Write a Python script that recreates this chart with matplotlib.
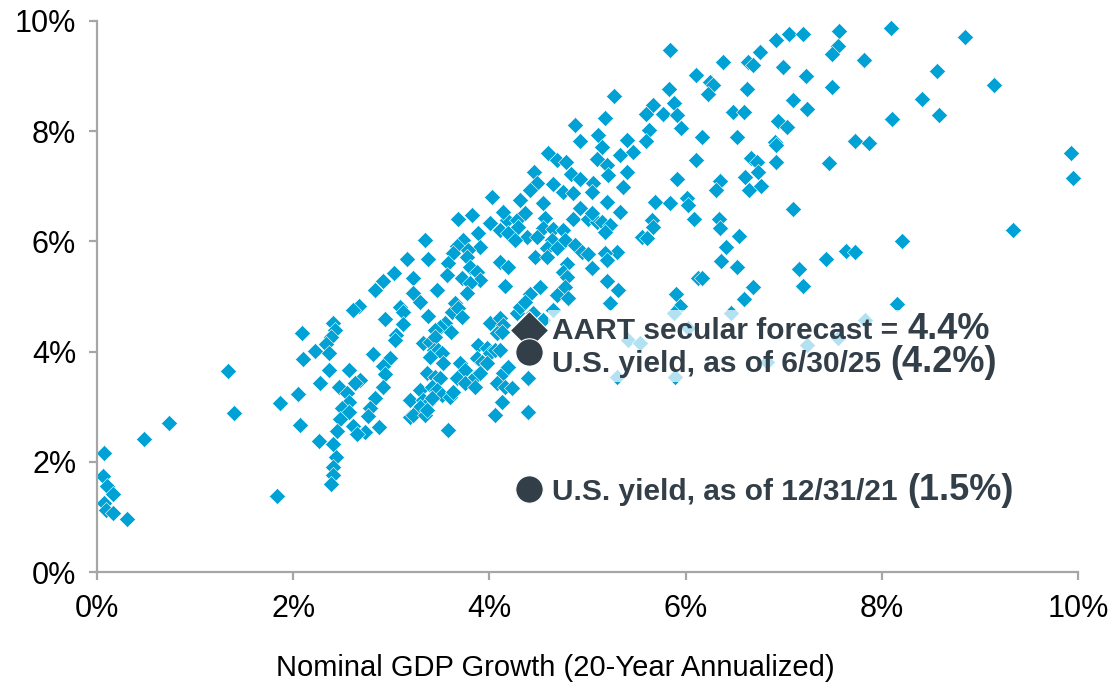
import matplotlib
matplotlib.use("Agg")
import matplotlib.pyplot as plt
from matplotlib.patches import Rectangle

plt.rcParams["font.family"] = ["Liberation Sans", "DejaVu Sans"]

# Nominal GDP growth (20-year annualized, %) for each country/period point
gdp_growth = [
    1.33, 1.40, 0.73, 0.48, 0.07, 2.44, 2.41, 2.41, 0.06, 2.39,
    0.10, 0.16, 1.83, 0.07, 0.09, 0.16, 0.31,
    3.03, 2.92, 2.83, 2.67, 2.61, 2.94, 2.41, 2.43, 2.09, 2.39,
    3.05, 3.04, 2.33, 2.22, 2.36, 2.81, 2.10, 2.99, 2.92, 2.36,
    2.57, 2.94, 2.68, 2.63, 2.27, 2.47, 2.92, 2.05, 2.55, 2.83,
    1.87, 2.57, 2.50, 2.57, 2.78, 2.76, 2.48, 2.07, 2.87, 2.61,
    2.73, 2.45, 2.65, 2.26, 2.41,
    4.03, 3.82, 3.68, 4.01, 3.88, 3.34, 3.73, 3.67, 3.90, 3.78,
    3.63, 3.77, 3.37, 3.16, 3.58, 3.80, 3.87, 3.57, 3.22, 3.72,
    3.90, 3.47, 3.80, 3.22, 3.77,
    4.18, 4.28, 4.57, 4.85, 5.00, 5.10, 4.29, 4.11, 4.55, 4.65,
    4.75, 4.19, 4.38, 4.49, 4.26, 4.64, 4.77, 4.87, 4.59, 4.69,
    4.94, 4.46, 4.59, 5.00, 4.11, 4.79, 4.19, 5.05, 4.75, 4.79,
    4.52, 4.77, 4.16, 4.41, 4.69, 4.80,
    3.09, 3.12, 3.29, 3.12, 3.37, 3.62, 3.65, 3.68, 3.72, 3.55,
    3.50, 3.45, 3.61, 3.32, 3.39, 3.45, 3.43, 3.48, 3.52, 3.39,
    3.53, 3.70, 3.75, 3.88, 3.98, 4.01, 3.87, 3.92, 3.98, 4.01,
    4.11, 4.14, 4.08, 4.13, 4.06, 4.11, 4.28, 4.31, 4.36, 4.44,
    4.55, 3.36, 3.45, 3.50, 3.67, 3.75, 3.85, 3.90, 3.85, 4.14,
    4.19, 4.08, 4.16, 4.23, 4.39, 3.29, 3.41, 3.47, 3.52, 3.60,
    3.63, 3.19, 3.32, 3.37, 3.41, 3.29, 3.19, 3.22, 3.34, 3.36,
    4.13, 4.06, 4.39, 3.58, 4.65,
    5.84, 6.11, 5.83, 5.27, 5.67, 5.88, 5.60, 5.77, 5.91, 5.18,
    4.87, 5.95, 5.63, 5.11, 4.92, 5.40, 5.60, 5.15, 5.46, 4.60,
    5.33, 4.69, 4.78, 5.10, 6.11, 5.20, 5.40, 4.45, 4.83, 4.92,
    5.21, 5.91, 4.65, 4.49, 5.06, 5.36, 4.41, 4.75, 4.85, 5.05,
    4.31, 4.55, 5.20, 5.69, 5.84, 6.01, 6.02, 4.92, 5.05, 5.33,
    4.14, 4.36,
    5.66, 5.67, 5.15, 5.23, 5.18, 5.56, 5.61, 6.09, 5.30, 5.18,
    5.20, 6.13, 5.20, 5.31, 5.90, 5.23, 5.94, 5.88, 5.41, 5.54,
    5.30, 5.89, 6.02,
    6.92, 7.05, 7.20, 7.56, 8.09, 8.85, 7.55, 7.49, 6.76, 6.38,
    6.64, 6.69, 6.99, 7.82, 7.23, 8.56, 6.25, 6.28, 6.23, 6.63,
    7.49, 9.14, 8.41, 7.09, 6.48, 6.60, 7.24, 8.10, 8.58, 6.94,
    7.03, 6.17, 6.52, 7.73, 7.87, 6.91, 6.92, 9.93, 6.67, 6.73,
    6.92, 7.46, 6.74, 9.95, 6.61, 6.35, 6.31, 6.65, 6.77, 7.09,
    9.34, 6.34, 6.35, 6.54, 8.21, 6.41, 7.63, 7.73, 7.43, 6.36,
    6.52, 7.16, 7.20, 6.69, 6.60, 8.15, 6.46, 6.17, 7.24, 7.55,
    7.83, 6.83,
]

# 10-year government bond yield (%) for each point
bond_yield = [
    3.65, 2.89, 2.70, 2.41, 2.16, 2.09, 1.91, 1.76, 1.74, 1.60,
    1.56, 1.42, 1.38, 1.25, 1.13, 1.07, 0.96,
    5.43, 5.28, 5.12, 4.83, 4.75, 4.59, 4.52, 4.39, 4.34, 4.26,
    4.30, 4.21, 4.14, 4.01, 3.97, 3.95, 3.87, 3.88, 3.74, 3.67,
    3.67, 3.59, 3.48, 3.43, 3.43, 3.36, 3.36, 3.23, 3.25, 3.16,
    3.07, 3.09, 2.98, 2.90, 2.98, 2.83, 2.78, 2.67, 2.63, 2.65,
    2.54, 2.56, 2.50, 2.38, 2.32,
    6.81, 6.48, 6.41, 6.33, 6.15, 6.03, 6.03, 5.92, 5.90, 5.84,
    5.79, 5.72, 5.68, 5.68, 5.61, 5.53, 5.44, 5.39, 5.34, 5.34,
    5.30, 5.12, 5.25, 5.06, 5.06,
    6.39, 6.39, 6.42, 6.41, 6.41, 6.35, 6.26, 6.21, 6.24, 6.23,
    6.21, 6.15, 6.08, 6.08, 6.03, 6.03, 6.03, 5.93, 5.88, 5.88,
    5.81, 5.72, 5.72, 5.77, 5.63, 5.59, 5.54, 5.52, 5.44, 5.35,
    5.17, 5.17, 5.19, 5.05, 5.03, 4.97,
    4.81, 4.72, 4.90, 4.50, 4.65, 4.72, 4.88, 4.79, 4.63, 4.52,
    4.45, 4.39, 4.35, 4.16, 4.17, 4.27, 4.03, 4.03, 3.97, 3.90,
    3.79, 3.79, 3.67, 4.12, 4.07, 3.97, 3.88, 3.81, 3.79, 4.52,
    4.61, 4.48, 4.34, 4.36, 4.03, 4.03, 4.70, 4.81, 4.90, 4.70,
    4.57, 3.61, 3.54, 3.52, 3.52, 3.43, 3.54, 3.61, 3.36, 3.61,
    3.72, 3.43, 3.36, 3.34, 3.52, 3.30, 3.36, 3.30, 3.21, 3.18,
    3.27, 3.12, 3.12, 3.07, 3.16, 2.99, 2.81, 2.85, 2.85, 2.94,
    3.09, 2.85, 2.90, 2.57, 4.75,
    9.47, 9.02, 8.77, 8.64, 8.48, 8.51, 8.31, 8.31, 8.29, 8.24,
    8.11, 8.06, 8.02, 7.93, 7.82, 7.84, 7.82, 7.71, 7.62, 7.60,
    7.57, 7.48, 7.44, 7.50, 7.48, 7.39, 7.26, 7.26, 7.22, 7.13,
    7.21, 7.13, 7.04, 7.06, 7.06, 6.99, 6.93, 6.90, 6.88, 6.90,
    6.75, 6.70, 6.72, 6.72, 6.70, 6.79, 6.66, 6.61, 6.52, 6.53,
    6.53, 6.52,
    6.39, 6.26, 6.35, 6.30, 6.17, 6.08, 6.06, 6.41, 5.81, 5.79,
    5.66, 5.34, 5.28, 5.12, 5.05, 4.88, 4.83, 4.70, 4.21, 4.16,
    3.54, 3.54, 4.43,
    9.66, 9.76, 9.76, 9.82, 9.87, 9.71, 9.55, 9.40, 9.44, 9.25,
    9.25, 9.20, 9.17, 9.29, 9.00, 9.09, 8.89, 8.84, 8.68, 8.77,
    8.80, 8.84, 8.59, 8.57, 8.35, 8.35, 8.40, 8.22, 8.29, 8.18,
    8.07, 7.89, 7.89, 7.82, 7.79, 7.80, 7.75, 7.60, 7.51, 7.44,
    7.44, 7.42, 7.26, 7.15, 7.17, 7.10, 6.93, 6.93, 7.01, 6.59,
    6.21, 6.41, 6.24, 6.10, 6.01, 5.90, 5.83, 5.81, 5.68, 5.64,
    5.54, 5.50, 5.19, 5.17, 4.95, 4.86, 4.70, 5.34, 4.12, 4.25,
    4.57, 3.82,
]

forecast_x = [4.4]
forecast_y = [4.4]
us_yield_x = [4.4, 4.4]
us_yield_y = [4.0, 1.5]

label_main = ["AART secular forecast =", "U.S. yield, as of 6/30/25", "U.S. yield, as of 12/31/21"]
label_value = ["4.4%", "(4.2%)", "(1.5%)"]
label_x = 4.64
label_y = [4.23, 3.63, 1.31]

x_ticks = [0, 2, 4, 6, 8, 10]
y_ticks = [0, 2, 4, 6, 8, 10]
x_title = "Nominal GDP Growth (20-Year Annualized)"

blue = "#00A1D5"
dark = "#333F48"
axis_gray = "#A6A6A6"

fig = plt.figure(figsize=(11.14, 6.84), dpi=100)
ax = fig.add_axes([0.0871, 0.1637, 0.9677 - 0.0871, 0.9693 - 0.1637])

ax.scatter(gdp_growth, bond_yield, marker="D", s=68, color=blue,
           edgecolors="white", linewidths=0.4, zorder=2, clip_on=False)

ax.scatter(forecast_x, forecast_y, marker="D", s=380, color=dark,
           edgecolors="white", linewidths=0.8, zorder=5, clip_on=False)
ax.scatter(us_yield_x, us_yield_y, marker="o", s=390, color=dark,
           edgecolors="white", linewidths=0.8, zorder=5, clip_on=False)

ax.set_xlim(0, 10)
ax.set_ylim(0, 10)
ax.set_xticks(x_ticks)
ax.set_yticks(y_ticks)
ax.set_xticklabels([f"{v}%" for v in x_ticks])
ax.set_yticklabels([f"{v}%" for v in y_ticks])

for side in ["top", "right"]:
    ax.spines[side].set_visible(False)
for side in ["left", "bottom"]:
    ax.spines[side].set_color(axis_gray)
    ax.spines[side].set_linewidth(1.6)
ax.tick_params(axis="both", direction="out", length=6, width=1.6,
               color=axis_gray, labelsize=22, labelcolor="black")
ax.tick_params(axis="y", pad=9)
ax.tick_params(axis="x", pad=10)

fig.text(555 / 1114, 1 - 676 / 684, x_title, fontsize=21, color="black",
         ha="center", va="baseline")

fig.canvas.draw()
renderer = fig.canvas.get_renderer()
inv = ax.transData.inverted()
texts_for_box = []
for i, (main, val, yb) in enumerate(zip(label_main, label_value, label_y)):
    t1 = ax.text(label_x, yb, main, fontsize=21.5, fontweight="bold", color=dark,
                 va="baseline", ha="left", zorder=6)
    bb = t1.get_window_extent(renderer=renderer)
    x2 = inv.transform((bb.x1 + 9, 0))[0]
    t2 = ax.text(x2, yb, val, fontsize=26, fontweight="bold", color=dark,
                 va="baseline", ha="left", zorder=6)
    if i < 2:
        texts_for_box += [t1, t2]

fig.canvas.draw()
exts = [t.get_window_extent(renderer=renderer) for t in texts_for_box]
x0 = min(e.x0 for e in exts) - 4
x1 = max(e.x1 for e in exts) + 4
y0 = min(e.y0 for e in exts) - 2
y1 = max(e.y1 for e in exts) + 2
ainv = ax.transAxes.inverted()
(ax0, ay0) = ainv.transform((x0, y0))
(ax1, ay1) = ainv.transform((x1, y1))
ax.add_patch(Rectangle((ax0, ay0), ax1 - ax0, ay1 - ay0, transform=ax.transAxes,
                       facecolor="white", edgecolor="none", alpha=0.7,
                       zorder=4, clip_on=False))

fig.savefig("out.png", dpi=100)
